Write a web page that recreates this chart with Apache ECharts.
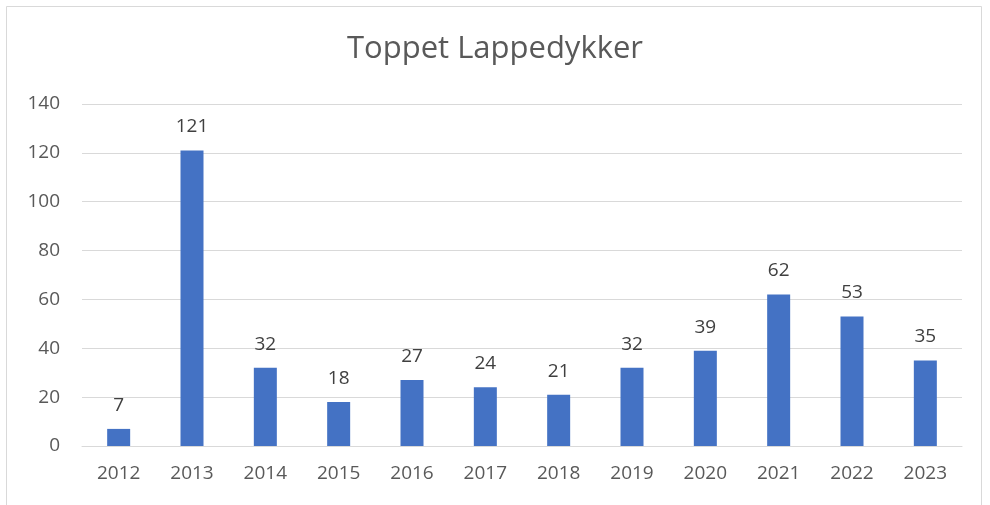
<!DOCTYPE html>
<html>
<head>
<meta charset="utf-8">
<script src="https://cdn.jsdelivr.net/npm/echarts@6/dist/echarts.min.js"></script>
<style>
  html, body { margin: 0; padding: 0; background: #fff; }
  #main { width: 990px; height: 505px; }
</style>
</head>
<body>
<div id="main"></div>
<script>
var years = ['2012', '2013', '2014', '2015', '2016', '2017', '2018', '2019', '2020', '2021', '2022', '2023'];
var counts = [7, 121, 32, 18, 27, 24, 21, 32, 39, 62, 53, 35];
var yTicks = [0, 20, 40, 60, 80, 100, 120, 140];

var fontName = 'Open Sans, Liberation Sans, sans-serif';

var option = {
    animation: false,
    backgroundColor: '#fff',
    title: {
        text: 'Toppet Lappedykker',
        left: 'center',
        top: 29,
        textStyle: {
            fontFamily: fontName,
            fontSize: 31,
            fontWeight: 'normal',
            color: '#595959'
        }
    },
    graphic: [{
        type: 'rect',
        shape: { x: 6.5, y: 6.5, width: 975, height: 520 },
        style: { fill: 'none', stroke: '#d9d9d9', lineWidth: 1 },
        silent: true
    }],
    grid: {
        left: 82,
        right: 28,
        top: 104,
        bottom: 59
    },
    xAxis: {
        type: 'category',
        data: years,
        axisTick: { show: false },
        axisLine: { lineStyle: { color: '#d9d9d9', width: 1 } },
        axisLabel: {
            margin: 18,
            fontFamily: fontName,
            fontSize: 19,
            color: '#595959'
        }
    },
    yAxis: {
        type: 'value',
        min: yTicks[0],
        max: yTicks[yTicks.length - 1],
        interval: 20,
        axisLine: { show: false },
        axisTick: { show: false },
        splitLine: { lineStyle: { color: '#d9d9d9', width: 1 } },
        axisLabel: {
            margin: 22,
            fontFamily: fontName,
            fontSize: 19,
            color: '#595959'
        }
    },
    series: [{
        type: 'bar',
        data: counts,
        barWidth: 23,
        itemStyle: { color: '#4472c4' },
        label: {
            show: true,
            position: 'top',
            distance: 14,
            fontFamily: fontName,
            fontSize: 19,
            color: '#404040'
        }
    }]
};

var myChart = echarts.init(document.getElementById('main'));
myChart.setOption(option);
</script>
</body>
</html>
